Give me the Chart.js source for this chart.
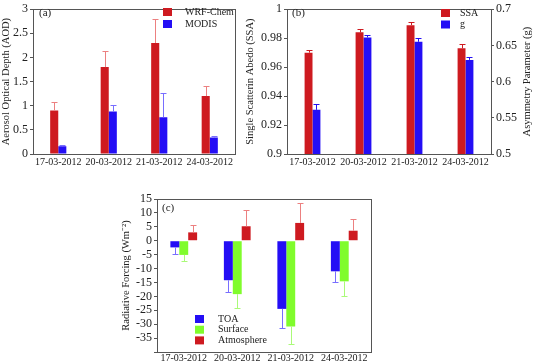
<!DOCTYPE html>
<html><head><meta charset="utf-8">
<script src="https://cdn.jsdelivr.net/npm/chart.js@4"></script>
<style>
html,body{margin:0;padding:0;background:#fff;}
#wrap{position:relative;width:533px;height:363px;overflow:hidden;background:#fff;}
canvas{position:absolute;left:0;top:0;}
</style></head><body>
<div id="wrap">
<canvas id="ca" width="533" height="363"></canvas>
<canvas id="cb" width="533" height="363"></canvas>
<canvas id="cc" width="533" height="363"></canvas>
</div>
<script>
// ---- data ----
const dates = ['17-03-2012', '20-03-2012', '21-03-2012', '24-03-2012'];
const aodWrf = [0.90, 1.80, 2.30, 1.20];
const aodWrfErr = [1.08, 2.14, 2.80, 1.40];
const aodModis = [0.16, 0.88, 0.76, 0.34];
const aodModisErr = [0.19, 1.01, 1.27, 0.37];
const ssa = [0.970, 0.984, 0.989, 0.973];
const ssaErr = [0.972, 0.986, 0.991, 0.976];
const gVals = [0.561, 0.661, 0.655, 0.630];
const gErr = [0.569, 0.664, 0.660, 0.634];
const toa = [-2.4, -14.2, -24.5, -11.0];
const toaErr = [-4.8, -18.6, -31.4, -15.0];
const surf = [-5.1, -19.2, -30.8, -14.6];
const surfErr = [-7.4, -24.2, -37.0, -20.0];
const atm = [3.0, 5.2, 6.4, 3.6];
const atmErr = [5.8, 10.9, 13.4, 7.8];
const aodRange = [0, 3, 0.5];
const ssaRange = [0.9, 1, 0.02];
const gRange = [0.5, 0.7, 0.05];
const rfRange = [-40, 15, 5];
const rfHidden = [-40];

// ---- style ----
const FONT = "'Liberation Serif','Times New Roman',serif";
const RED = 'rgb(206,26,32)', RED_E = 'rgb(236,128,128)';
const BLUE = 'rgb(36,14,245)', BLUE_E = 'rgb(120,110,255)';
const GREEN = 'rgb(128,252,44)', GREEN_E = 'rgb(170,250,120)';
const AXIS = '#555', TXT = '#222';

function panelPlugin(o) {
  return {
    id: 'panel' + o.tag,
    afterDatasetsDraw(chart) {
      const ctx = chart.ctx, a = chart.chartArea;
      ctx.save();
      chart.data.datasets.forEach((ds, di) => {
        const meta = chart.getDatasetMeta(di);
        const ys = chart.scales[meta.yAxisID];
        meta.data.forEach((bar, i) => {
          const ye = Math.round(ys.getPixelForValue(ds.errTo[i])) + 0.5;
          const x = Math.round(bar.x) + 0.5;
          ctx.strokeStyle = ds.errColor; ctx.lineWidth = 1;
          ctx.beginPath();
          ctx.moveTo(x, bar.y); ctx.lineTo(x, ye);
          ctx.moveTo(x - 3, ye); ctx.lineTo(x + 3, ye);
          ctx.stroke();
        });
      });
      ctx.strokeStyle = AXIS; ctx.lineWidth = 1;
      ctx.strokeRect(Math.round(a.left) + 0.5, Math.round(a.top) + 0.5,
        Math.round(a.right - a.left), Math.round(a.bottom - a.top));
      ctx.fillStyle = TXT; ctx.textBaseline = 'middle'; ctx.textAlign = 'left';
      ctx.font = '11px ' + FONT;
      ctx.fillText('(' + o.tag + ')', o.tagX, o.tagY);
      ctx.font = '10px ' + FONT;
      chart.data.datasets.forEach((ds, di) => {
        const y = o.lg.y + di * o.lg.dy;
        ctx.fillStyle = ds.backgroundColor;
        ctx.fillRect(o.lg.x, y - 4, 9, 8);
        ctx.fillStyle = TXT;
        ctx.fillText(ds.label, o.lg.tx, y);
      });
      if (o.rTitle) {
        ctx.save();
        ctx.translate(o.rTitle.x, (a.top + a.bottom) / 2);
        ctx.rotate(-Math.PI / 2);
        ctx.textAlign = 'center'; ctx.font = '10.5px ' + FONT;
        ctx.fillText(o.rTitle.text, 0, 0);
        ctx.restore();
      }
      ctx.restore();
    }
  };
}

function fmt(v) { return String(Math.round(v * 1000) / 1000); }
function yAxis(range, width, title, pos, hidden) {
  return {
    type: 'linear', position: pos || 'left', min: range[0], max: range[1],
    afterFit: s => { s.width = width; },
    ticks: { stepSize: range[2], autoSkip: false, font: { family: FONT, size: 12 }, color: TXT, padding: 2,
      callback: v => (hidden && hidden.indexOf(Math.round(v * 1000) / 1000) >= 0) ? '' : fmt(v) },
    grid: { drawOnChartArea: false, drawTicks: true, tickLength: 3, color: AXIS },
    border: { display: false },
    title: title ? { display: true, text: title, font: { family: FONT, size: 10.5 }, color: TXT, padding: 0 } : { display: false }
  };
}
function xAxis(h, pad) {
  return {
    type: 'category', offset: true,
    afterFit: s => { s.height = h; },
    ticks: { font: { family: FONT, size: 10 }, color: TXT, padding: pad, maxRotation: 0, minRotation: 0, autoSkip: false },
    grid: { display: false, drawTicks: false, tickLength: 0 }, border: { display: false }
  };
}
const base = { responsive: false, animation: false, devicePixelRatio: 1,
  plugins: { legend: { display: false }, tooltip: { enabled: false } } };

// ---- (a) ----
new Chart(document.getElementById('ca'), {
  type: 'bar',
  data: { labels: dates, datasets: [
    { label: 'WRF-Chem', data: aodWrf, errTo: aodWrfErr, errColor: RED_E, backgroundColor: RED, yAxisID: 'y' },
    { label: 'MODIS', data: aodModis, errTo: aodModisErr, errColor: BLUE_E, backgroundColor: BLUE, yAxisID: 'y' }
  ]},
  options: Object.assign({}, base, {
    layout: { padding: { left: 0, top: 5, right: 298, bottom: 193 } },
    datasets: { bar: { barPercentage: 1, categoryPercentage: 0.32 } },
    scales: { x: xAxis(16, 2), y: yAxis(aodRange, 33, 'Aerosol Optical Depth (AOD)') }
  }),
  plugins: [panelPlugin({ tag: 'a', tagX: 39, tagY: 13, lg: { x: 163, y: 12, dy: 12, tx: 185 } })]
});

// ---- (b) ----
new Chart(document.getElementById('cb'), {
  type: 'bar',
  data: { labels: dates, datasets: [
    { label: 'SSA', data: ssa, errTo: ssaErr, errColor: RED, backgroundColor: RED, yAxisID: 'y' },
    { label: 'g', data: gVals, errTo: gErr, errColor: BLUE, backgroundColor: BLUE, yAxisID: 'y2' }
  ]},
  options: Object.assign({}, base, {
    layout: { padding: { left: 244, top: 5, right: 0, bottom: 193 } },
    datasets: { bar: { barPercentage: 1, categoryPercentage: 0.31 } },
    scales: { x: xAxis(16, 2),
      y: yAxis(ssaRange, 43, 'Single Scatterin Abedo (SSA)'),
      y2: yAxis(gRange, 42, null, 'right') }
  }),
  plugins: [panelPlugin({ tag: 'b', tagX: 292, tagY: 13, lg: { x: 441, y: 13, dy: 11.5, tx: 460 },
    rTitle: { text: 'Asymmetry Parameter (g)', x: 527 } })]
});

// ---- (c) ----
new Chart(document.getElementById('cc'), {
  type: 'bar',
  data: { labels: dates, datasets: [
    { label: 'TOA', data: toa, errTo: toaErr, errColor: BLUE_E, backgroundColor: BLUE, yAxisID: 'y' },
    { label: 'Surface', data: surf, errTo: surfErr, errColor: GREEN_E, backgroundColor: GREEN, yAxisID: 'y' },
    { label: 'Atmosphere', data: atm, errTo: atmErr, errColor: RED_E, backgroundColor: RED, yAxisID: 'y' }
  ]},
  options: Object.assign({}, base, {
    layout: { padding: { left: 120, top: 199, right: 162, bottom: 0 } },
    datasets: { bar: { barPercentage: 1, categoryPercentage: 0.5 } },
    scales: { x: xAxis(11, 0), y: yAxis(rfRange, 37, 'Radiative Forcing (Wm\u207B\u00B2)', 'left', rfHidden) }
  }),
  plugins: [panelPlugin({ tag: 'c', tagX: 162, tagY: 208, lg: { x: 195, y: 319, dy: 10.7, tx: 218 } })]
});
</script>
</body></html>
